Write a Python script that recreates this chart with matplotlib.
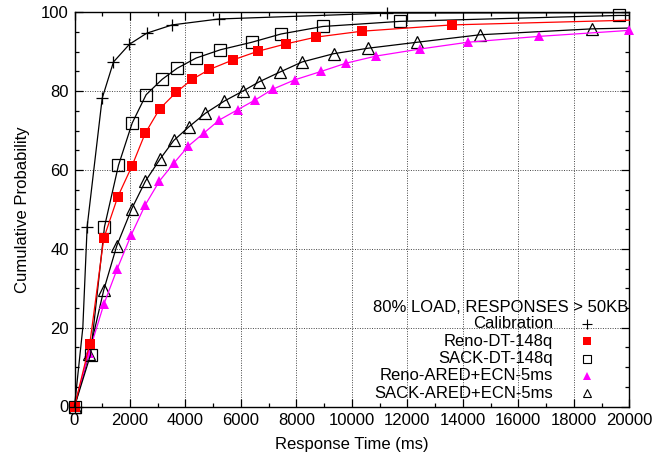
import matplotlib
matplotlib.use("Agg")
import matplotlib.pyplot as plt
from matplotlib.ticker import MultipleLocator

plt.rcParams['font.family'] = ['Liberation Sans', 'DejaVu Sans']
plt.rcParams['font.size'] = 12

# Response time (ms) and cumulative probability (%) for each configuration.
# Vertices of each curve; marked_* lists which vertices carry a point symbol.
calib_x = [0, 300, 456, 998, 1405, 1982, 2605, 3521, 5200, 11268, 20000]
calib_y = [0, 20.0, 45.6, 78.2, 87.4, 91.9, 94.7, 96.8, 98.3, 99.8, 99.9]
marked_calib = [0, 2, 3, 4, 5, 6, 7, 8, 9]

reno_dt_x = [0, 551, 1056, 1560, 2065, 2548, 3070, 3665, 4242, 4865, 5705,
             6605, 7629, 8703, 10353, 13596, 20000]
reno_dt_y = [0, 15.9, 42.7, 53.2, 60.9, 69.3, 75.5, 79.7, 83.0, 85.5, 87.9,
             90.1, 92.0, 93.7, 95.2, 96.8, 98.0]
marked_reno_dt = list(range(16))

sack_dt_x = [0, 577, 1081, 1586, 2079, 2583, 3160, 3700, 4385, 5261, 6390,
             7448, 8948, 11736, 19614, 20000]
sack_dt_y = [0, 13.1, 45.6, 61.2, 71.9, 79.1, 83.0, 85.8, 88.4, 90.5, 92.4,
             94.5, 96.4, 97.7, 99.2, 99.2]
marked_sack_dt = list(range(15))

reno_ared_x = [0, 515, 1056, 1539, 2043, 2548, 3063, 3578, 4108, 4685, 5225,
               5885, 6523, 7147, 7953, 8890, 9791, 10871, 12468, 14174, 16757,
               19975]
reno_ared_y = [0, 13.5, 25.9, 34.9, 43.5, 51.1, 57.2, 61.7, 66.1, 69.5, 72.7,
               75.3, 77.8, 80.5, 82.9, 85.0, 87.1, 88.9, 90.7, 92.4, 93.9,
               95.4]
marked_reno_ared = list(range(22))

sack_ared_x = [0, 520, 1056, 1525, 2066, 2559, 3087, 3580, 4133, 4721, 5405,
               6066, 6667, 7423, 8205, 9344, 10595, 12349, 14620, 18656, 20000]
sack_ared_y = [0, 13.3, 29.6, 40.8, 50.2, 57.2, 62.8, 67.5, 71.0, 74.4, 77.5,
               80.0, 82.4, 84.9, 87.4, 89.5, 90.9, 92.4, 94.3, 95.8, 96.0]
marked_sack_ared = list(range(20))

labels = ["Calibration", "Reno-DT-148q", "SACK-DT-148q",
          "Reno-ARED+ECN-5ms", "SACK-ARED+ECN-5ms"]
key_title = "80% LOAD, RESPONSES > 50KB"

fig = plt.figure(figsize=(6.72, 4.62), dpi=100)
ax = fig.add_axes([74.5 / 672, 1 - 406.5 / 462, (629.3 - 74.5) / 672,
                   (406.5 - 12.3) / 462])

series = [
    (calib_x, calib_y, marked_calib, dict(color='black', marker='+', ms=8,
                                          mew=0.9, mfc='none', mec='black')),
    (reno_dt_x, reno_dt_y, marked_reno_dt, dict(color='#ff0000', marker='s',
                                                ms=7.5, mew=0, mfc='#ff0000')),
    (sack_dt_x, sack_dt_y, marked_sack_dt, dict(color='black', marker='s',
                                                ms=8, mew=0.9, mfc='none',
                                                mec='black')),
    (reno_ared_x, reno_ared_y, marked_reno_ared, dict(color='#ff00ff',
                                                      marker='^', ms=7.5,
                                                      mew=0, mfc='#ff00ff')),
    (sack_ared_x, sack_ared_y, marked_sack_ared, dict(color='black',
                                                      marker='^', ms=8,
                                                      mew=0.9, mfc='none',
                                                      mec='black')),
]

for (xs, ys, marks, style) in series[::-1]:
    ax.plot(xs, ys, lw=0.9, markevery=marks, clip_on=False, zorder=3, **style)

ax.set_xlim(0, 20000)
ax.set_ylim(0, 100)
ax.xaxis.set_major_locator(MultipleLocator(2000))
ax.xaxis.set_minor_locator(MultipleLocator(1000))
ax.yaxis.set_major_locator(MultipleLocator(20))
ax.yaxis.set_minor_locator(MultipleLocator(5))
ax.tick_params(which='both', direction='in', top=True, right=True,
               width=0.9, labelsize=12)
ax.tick_params(which='major', length=6, pad=5)
ax.tick_params(which='minor', length=3)
ax.tick_params(axis='y', pad=4)
for s in ax.spines.values():
    s.set_linewidth(1.0)

ax.grid(True, which='major', color='#444444', linestyle=(0, (1, 1.5)),
        linewidth=0.7)
ax.set_axisbelow(True)

ax.set_xlabel("Response Time (ms)", fontsize=12, labelpad=6)
ax.set_ylabel("Cumulative Probability", fontsize=12, labelpad=8)

# Key in the lower right: right-aligned labels followed by point symbols
px_w = 629.3 - 74.5
px_h = 406.5 - 12.3
def ax_xy(px, py):
    return (px - 74.5) / px_w, (406.5 - py) / px_h

tx, ty = ax_xy(628, 307)
ax.text(tx, ty, key_title, transform=ax.transAxes, ha='right', va='center',
        fontsize=12)
row_y = [324, 341.3, 358.5, 375.8, 393]
key_styles = [
    dict(marker='+', ms=6.5, mew=0.8, color='black'),
    dict(marker='s', ms=5.5, mew=0, color='#ff0000'),
    dict(marker='s', ms=5.5, mew=0.8, mfc='none', mec='black'),
    dict(marker='^', ms=5.5, mew=0, color='#ff00ff'),
    dict(marker='^', ms=5.5, mew=0.8, mfc='none', mec='black'),
]
for lab, py, st in zip(labels, row_y, key_styles):
    lx, ly = ax_xy(553, py)
    ax.text(lx, ly, lab, transform=ax.transAxes, ha='right', va='center',
            fontsize=12)
    mx, my = ax_xy(587, py)
    ax.plot([mx], [my], transform=ax.transAxes, linestyle='none',
            clip_on=False, zorder=4, **st)

fig.savefig("out.png", dpi=100)
